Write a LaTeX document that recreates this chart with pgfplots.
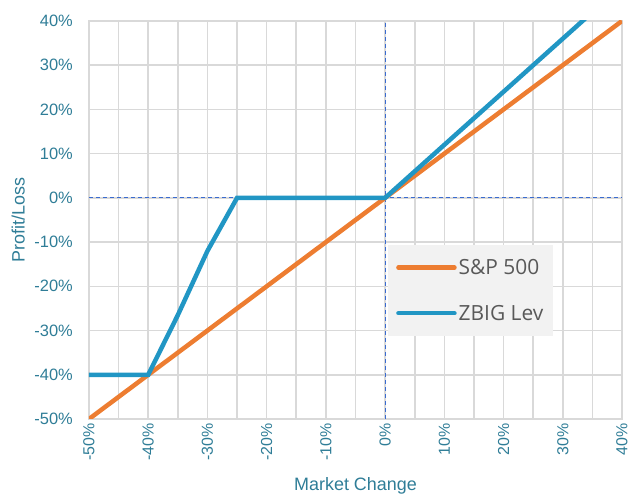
\documentclass[border=0pt]{standalone}
\usepackage{fontspec}
\setmainfont{Liberation Sans}
\newfontfamily\legfont{Open Sans}
\usepackage{pgfplots}
\pgfplotsset{compat=1.18}
\definecolor{spor}{HTML}{ED7D31}
\definecolor{zblue}{HTML}{2196C4}
\definecolor{tealtxt}{HTML}{2F7D97}
\definecolor{gridc}{HTML}{D9D9D9}
\definecolor{legbg}{HTML}{F2F2F2}
\definecolor{legtxt}{HTML}{595959}
\definecolor{dashc}{HTML}{3A6BD0}
\begin{document}
\begin{tikzpicture}
\begin{axis}[
  name=ax,
  scale only axis,
  width=533bp, height=398bp,
  xmin=-50, xmax=40, ymin=-50, ymax=40,
  xtick={-50,-40,-30,-20,-10,0,10,20,30,40},
  xticklabels={-50\%,-40\%,-30\%,-20\%,-10\%,0\%,10\%,20\%,30\%,40\%},
  minor xtick={-45,-35,-25,-15,-5,5,15,25,35},
  ytick={-50,-40,-30,-20,-10,0,10,20,30,40},
  yticklabels={-50\%,-40\%,-30\%,-20\%,-10\%,0\%,10\%,20\%,30\%,40\%},
  x tick label style={yshift=-4bp, rotate=90, anchor=east, font=\fontsize{16}{19}\selectfont, text=tealtxt, inner sep=0pt},
  y tick label style={font=\fontsize{16.5}{19}\selectfont, text=tealtxt, inner sep=0pt, xshift=-16bp},
  xmajorgrids, xminorgrids, ymajorgrids,
  grid style={gridc, line width=1.6bp},
  minor grid style={gridc, line width=1.6bp},
  major tick length=0pt, minor tick length=0pt,
  axis line style={draw=gridc, line width=1.6bp},
  xlabel={Market Change}, ylabel={Profit/Loss},
  every axis x label/.style={at={(axis description cs:0.5,-0.168)}, anchor=center, font=\fontsize{18}{21}\selectfont, text=tealtxt},
  every axis y label/.style={at={(axis description cs:-0.133,0.5)}, rotate=90, anchor=center, font=\fontsize{18}{21}\selectfont, text=tealtxt},
  legend style={at={(0.561,0.437)}, anchor=north west, fill=legbg, draw=none,
    font=\legfont\fontsize{21}{25}\selectfont, text=legtxt,
    row sep=25bp, inner xsep=8bp, inner ysep=12bp},
  legend cell align=left,
  legend image code/.code={\draw[#1, line cap=round] (0bp,0bp) -- (56bp,0bp);},
]
\draw[dashc, line width=1.1bp, dash pattern=on 4bp off 3bp] (axis cs:0,-50) -- (axis cs:0,40);
\draw[dashc, line width=1.1bp, dash pattern=on 4bp off 3bp] (axis cs:-50,0) -- (axis cs:40,0);
\addplot[spor, line width=4.5bp] coordinates {(-50,-50) (40,40)};
\addlegendentry{S\&P 500}
\addplot[zblue, line width=4.5bp] coordinates {(-50,-40) (-40,-40) (-35,-26.5) (-30,-12) (-25,0) (0,0) (40,48)};
\addlegendentry{ZBIG Lev}
\end{axis}
\path (ax.south west) ++(-89bp,-72bp) rectangle ++(630bp,491bp);
\end{tikzpicture}
\end{document}
